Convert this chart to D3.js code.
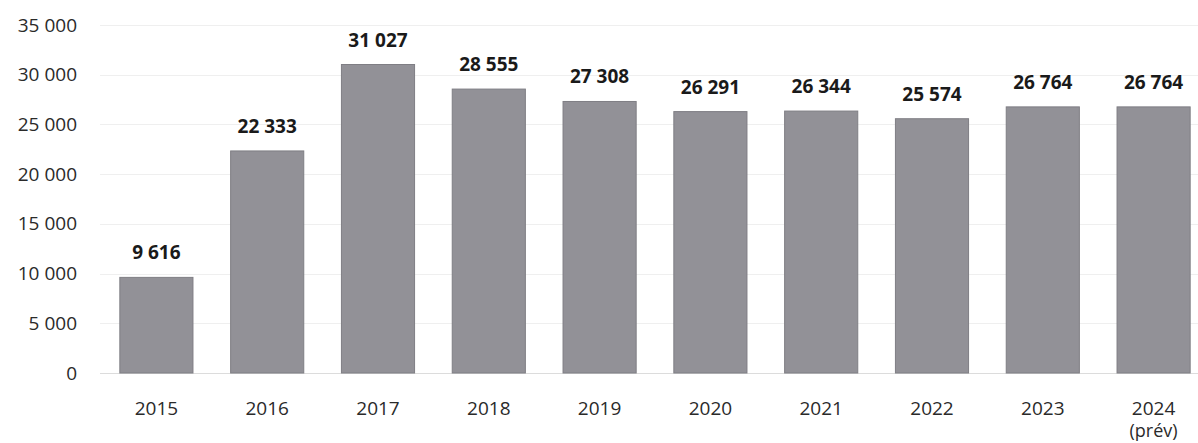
<!DOCTYPE html>
<html>
<head>
<meta charset="utf-8">
<script src="https://cdn.jsdelivr.net/npm/d3@7"></script>
<style>
  html, body { margin: 0; padding: 0; background: #fff; }
  svg { display: block; }
  text { font-family: "Open Sans", "Noto Sans", sans-serif; }
</style>
</head>
<body>
<svg id="chart" width="1198" height="443"></svg>
<script>
// Annual totals, 2015–2024 (2024 is a forecast)
const years = ["2015", "2016", "2017", "2018", "2019", "2020", "2021", "2022", "2023", "2024"];
const yearSubLabels = ["", "", "", "", "", "", "", "", "", "(prév)"];
const totals = [9616, 22333, 31027, 28555, 27308, 26291, 26344, 25574, 26764, 26764];
const yTicks = [0, 5000, 10000, 15000, 20000, 25000, 30000, 35000];

const W = 1198, H = 443;
const svg = d3.select("#chart");

const x = d3.scaleBand()
  .domain(years)
  .range([101, 1209])
  .paddingInner(0.34)
  .paddingOuter(0.17);

const y = d3.scaleLinear()
  .domain([0, 35000])
  .range([373, 25]);

// French-style thousands separator (space)
const fmt = v => d3.format(",")(v).replace(/,/g, " ");

// Horizontal gridlines
svg.append("g")
  .selectAll("line")
  .data(yTicks)
  .join("line")
  .attr("x1", 100)
  .attr("x2", W)
  .attr("y1", d => Math.round(y(d)) + 0.5)
  .attr("y2", d => Math.round(y(d)) + 0.5)
  .attr("stroke", d => d === 0 ? "#dcdcdc" : "#efefef")
  .attr("stroke-width", 1);

// Y axis labels
const yAxis = d3.axisLeft(y).tickValues(yTicks).tickFormat(fmt).tickSize(0).tickPadding(0);
const gy = svg.append("g").attr("transform", "translate(77,0)").call(yAxis);
gy.select(".domain").remove();
gy.selectAll("text")
  .attr("font-size", 19)
  .attr("fill", "#2a2a2a")
  .style("font-family", "'Open Sans', sans-serif");

// Bars
svg.append("g")
  .selectAll("rect")
  .data(years)
  .join("rect")
  .attr("x", d => x(d))
  .attr("width", x.bandwidth())
  .attr("y", (d, i) => y(totals[i]))
  .attr("height", (d, i) => y(0) - y(totals[i]))
  .attr("fill", "#929197")
  .attr("stroke", "#7f7e84")
  .attr("stroke-width", 1);

// Value labels above bars
svg.append("g")
  .selectAll("text")
  .data(years)
  .join("text")
  .attr("x", d => x(d) + x.bandwidth() / 2)
  .attr("y", (d, i) => y(totals[i]) - 18)
  .attr("text-anchor", "middle")
  .attr("font-size", 19)
  .attr("font-weight", 700)
  .attr("fill", "#1a1a1a")
  .text((d, i) => fmt(totals[i]));

// X axis labels
const xAxis = d3.axisBottom(x).tickSize(0).tickPadding(0);
const gx = svg.append("g").attr("transform", "translate(0,401)").call(xAxis);
gx.select(".domain").remove();
gx.selectAll("text")
  .attr("font-size", 19)
  .attr("fill", "#2a2a2a")
  .attr("dy", "0.71em")
  .style("font-family", "'Open Sans', sans-serif");

// Second line under the forecast year
svg.append("g")
  .selectAll("text")
  .data(years.filter((d, i) => yearSubLabels[i]))
  .join("text")
  .attr("x", d => x(d) + x.bandwidth() / 2)
  .attr("y", 437)
  .attr("text-anchor", "middle")
  .attr("font-size", 18)
  .attr("fill", "#2a2a2a")
  .text(d => yearSubLabels[years.indexOf(d)]);
</script>
</body>
</html>
